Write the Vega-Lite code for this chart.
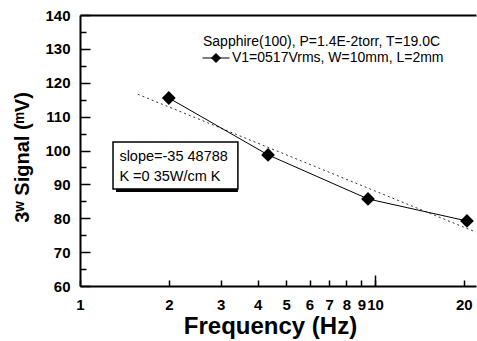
{
  "$schema": "https://vega.github.io/schema/vega-lite/v6.json",
  "width": 396,
  "height": 271,
  "autosize": {"type": "none"},
  "padding": {"left": 80, "top": 15, "right": 1, "bottom": 55},
  "background": "white",
  "config": {
    "view": {"stroke": null},
    "axis": {"domainColor": "black", "tickColor": "black", "labelColor": "black", "titleColor": "black", "labelFont": "Liberation Sans", "titleFont": "Liberation Sans", "grid": false, "domainWidth": 2, "tickWidth": 1.5},
    "text": {"font": "Liberation Sans", "color": "black"}
  },
  "datasets": {
    "measured": [
      {"f": 2, "signal": 115.5, "series": "V1=0517Vrms, W=10mm, L=2mm"},
      {"f": 4.34, "signal": 98.7, "series": "V1=0517Vrms, W=10mm, L=2mm"},
      {"f": 9.47, "signal": 85.7, "series": "V1=0517Vrms, W=10mm, L=2mm"},
      {"f": 20.5, "signal": 79.2, "series": "V1=0517Vrms, W=10mm, L=2mm"}
    ],
    "fit": [
      {"f": 1.57, "signal": 116.6},
      {"f": 22, "signal": 75.9}
    ],
    "box": [
      {"f1": 1.294, "f2": 3.43, "s1": 88.6, "s2": 102.5}
    ],
    "notes": [
      {"f": 1.36, "signal": 98.1, "label": "slope=-35 48788"},
      {"f": 1.36, "signal": 92.2, "label": "K =0 35W/cm K"}
    ]
  },
  "layer": [
    {
      "data": {"name": "box"},
      "mark": {"type": "rect", "fill": "black", "xOffset": 3, "yOffset": 3},
      "encoding": {
        "x": {"field": "f1", "type": "quantitative", "scale": {"type": "log", "domain": [1, 22], "nice": false},
          "axis": {"orient": "bottom", "values": [1, 2, 3, 4, 5, 6, 7, 8, 9, 10, 20], "format": "d", "tickSize": -6, "labelPadding": 17, "labelFontSize": 15, "labelFontWeight": "bold", "labelFlush": false, "labelOverlap": false, "title": "Frequency (Hz)", "titleFontSize": 24, "titleFontWeight": "bold", "titleX": 190, "titleY": 47, "titleBaseline": "alphabetic"}},
        "x2": {"field": "f2"},
        "y": {"field": "s1", "type": "quantitative", "scale": {"domain": [60, 140], "nice": false},
          "axis": {"orient": "left", "values": [60, 70, 80, 90, 100, 110, 120, 130, 140], "tickSize": -10, "labelPadding": 20, "labelFontSize": 15, "labelFontWeight": "bold", "labelFlush": false, "title": "3ʷ Signal (ᵐV)", "titleFontSize": 20, "titleFontWeight": "bold", "titleX": -58, "titleY": 142, "titleBaseline": "middle"}},
        "y2": {"field": "s2"}
      }
    },
    {
      "data": {"name": "box"},
      "mark": {"type": "rect", "fill": "white", "stroke": "black", "strokeWidth": 1.5},
      "encoding": {
        "x": {"field": "f1", "type": "quantitative", "axis": {"orient": "bottom", "values": [10], "tickSize": -11, "labels": false, "domain": false, "title": null}},
        "x2": {"field": "f2"},
        "y": {"field": "s1", "type": "quantitative", "axis": {"orient": "left", "values": [65, 75, 85, 95, 105, 115, 125, 135], "tickSize": -6, "labels": false, "domain": false, "title": null}},
        "y2": {"field": "s2"}
      }
    },
    {
      "data": {"name": "notes"},
      "mark": {"type": "text", "align": "left", "baseline": "middle", "fontSize": 14.5},
      "encoding": {
        "x": {"field": "f", "type": "quantitative", "axis": {"orient": "top", "ticks": false, "labels": false, "domain": true, "domainWidth": 2, "title": null}},
        "y": {"field": "signal", "type": "quantitative", "axis": null},
        "text": {"field": "label"}
      }
    },
    {
      "data": {"name": "fit"},
      "mark": {"type": "line", "color": "#333333", "strokeWidth": 1, "strokeDash": [2, 3]},
      "encoding": {
        "x": {"field": "f", "type": "quantitative", "axis": null},
        "y": {"field": "signal", "type": "quantitative", "axis": null}
      }
    },
    {
      "data": {"name": "measured"},
      "mark": {"type": "line", "color": "black", "strokeWidth": 1},
      "encoding": {
        "x": {"field": "f", "type": "quantitative", "axis": null},
        "y": {"field": "signal", "type": "quantitative", "axis": null}
      }
    },
    {
      "data": {"name": "measured"},
      "mark": {"type": "point", "shape": "diamond", "filled": true, "size": 190, "opacity": 1},
      "encoding": {
        "x": {"field": "f", "type": "quantitative", "axis": null},
        "y": {"field": "signal", "type": "quantitative", "axis": null},
        "color": {"field": "series", "type": "nominal", "scale": {"range": ["black"]},
          "legend": {"orient": "none", "legendX": 123, "legendY": 20, "padding": 0, "title": "Sapphire(100), P=1.4E-2torr, T=19.0C", "titleFontSize": 14, "titleFontWeight": "normal", "titleFont": "Liberation Sans", "titleColor": "black", "titleLimit": 400, "titlePadding": 2, "labelFontSize": 14, "labelFont": "Liberation Sans", "labelColor": "black", "labelLimit": 400, "symbolType": "M-3,0L3,0M-1,0L0,-1L1,0L0,1Z", "symbolSize": 81, "symbolFillColor": "black", "symbolStrokeColor": "black", "symbolStrokeWidth": 1, "symbolOffset": 6, "labelOffset": 9}}
      }
    }
  ],
  "resolve": {"axis": {"x": "independent", "y": "independent"}}
}
